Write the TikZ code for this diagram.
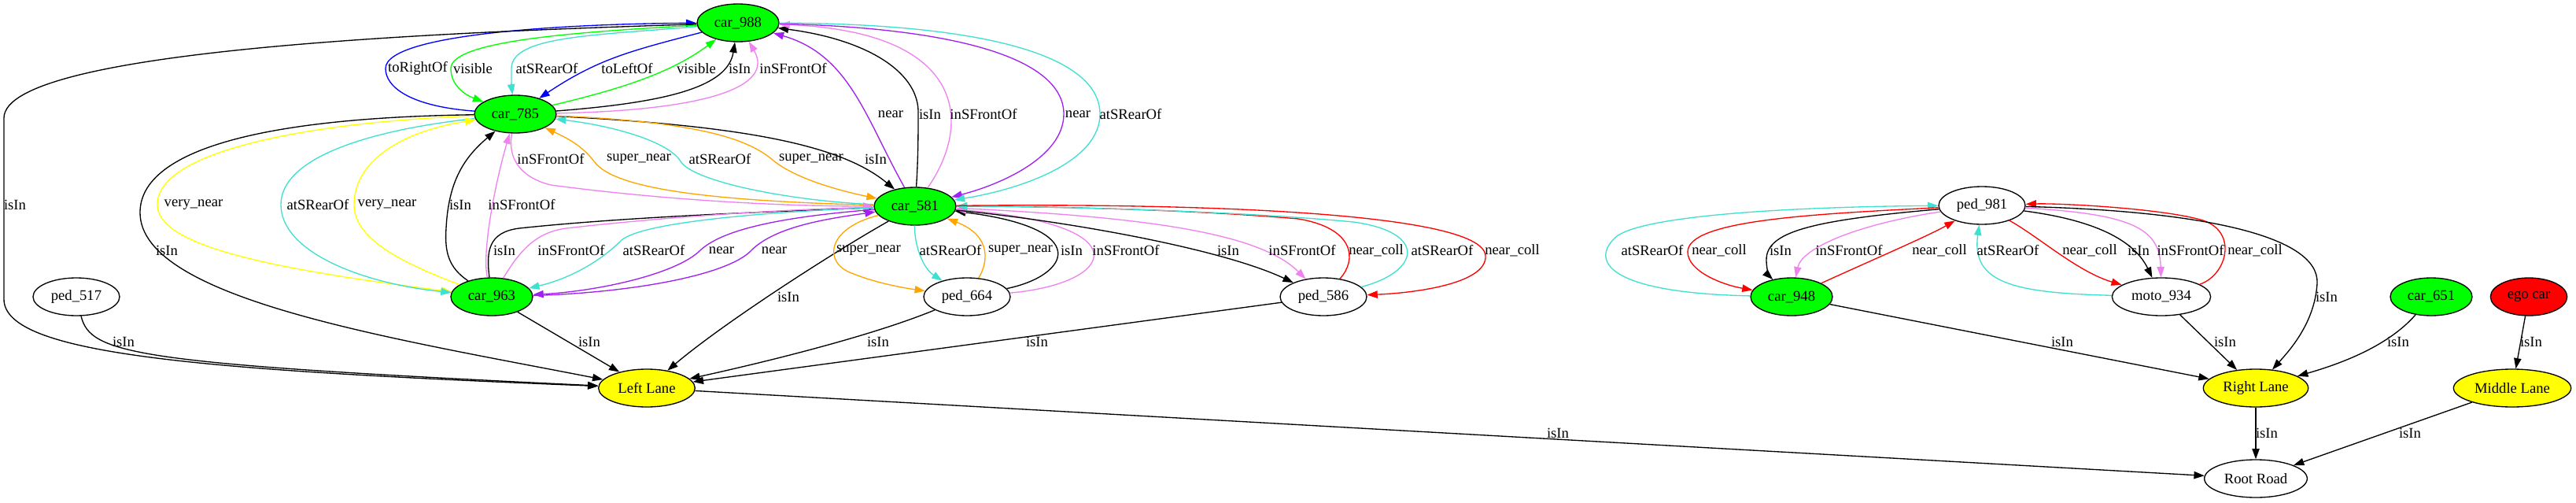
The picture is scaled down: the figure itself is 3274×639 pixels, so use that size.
\documentclass[tikz,border=0pt]{standalone}
\usepackage{fontspec}
\setmainfont{Liberation Serif}
\usepackage{xcolor}
\usepackage{tikz}
\usetikzlibrary{arrows.meta}
\usetikzlibrary{shapes.geometric}
\definecolor{gvgreen}{HTML}{00FF00}
\definecolor{gvyellow}{HTML}{FFFF00}
\definecolor{gvred}{HTML}{FF0000}
\definecolor{gvblue}{HTML}{0000FF}
\definecolor{gvturq}{HTML}{40E0D0}
\definecolor{gvviolet}{HTML}{EE82EE}
\definecolor{gvpurple}{HTML}{A020F0}
\definecolor{gvorange}{HTML}{FFA500}
\tikzset{
    obj/.style={ellipse, draw=black, line width=1pt, minimum height=36pt, inner sep=0pt},
    car/.style={obj, fill=gvgreen, minimum width=78pt},
    ped/.style={obj, minimum width=82.5pt},
    lane/.style={obj, fill=gvyellow},
    rel/.style={draw, line width=1pt, -{Triangle[length=10pt,width=7pt]}},
    isinrel/.style={rel, draw=black},
    nearrel/.style={rel, draw=gvpurple},
    collrel/.style={rel, draw=gvred},
    frontrel/.style={rel, draw=gvviolet},
    rearrel/.style={rel, draw=gvturq},
    suprel/.style={rel, draw=gvorange},
    veryrel/.style={rel, draw=gvyellow},
    visrel/.style={rel, draw=gvgreen},
    siderel/.style={rel, draw=gvblue},
    lbl/.style={text=black, inner sep=0pt},
}
\begin{document}
\begin{tikzpicture}[x=0.75pt, y=-0.75pt, font=\fontsize{14}{16}\selectfont]
	\useasboundingbox (0,0) rectangle (3274,639);
	\node[car] (car988) at (938,29) {car\_988};
	\node[car] (car785) at (655,145) {car\_785};
	\node[car] (car581) at (1163,262) {car\_581};
	\node[ped] (ped517) at (97,377) {ped\_517};
	\node[car] (car963) at (625,377) {car\_963};
	\node[ped] (ped664) at (1229,377) {ped\_664};
	\node[ped] (ped586) at (1682,377) {ped\_586};
	\node[ped] (ped981) at (2519,261) {ped\_981};
	\node[car] (car948) at (2277,377) {car\_948};
	\node[obj, minimum width=94pt] (moto934) at (2747,377) {moto\_934};
	\node[car] (car651) at (3090,377) {car\_651};
	\node[obj, fill=gvred, minimum width=73pt] (egocar) at (3214,377) {ego car};
	\node[lane, minimum width=92pt] (leftlane) at (822,493) {Left Lane};
	\node[lane, minimum width=100pt] (rightlane) at (2867,493) {Right Lane};
	\node[lane, minimum width=112pt] (middlelane) at (3193,493) {Middle Lane};
	\node[obj, minimum width=98pt] (rootroad) at (2867,608) {Root Road};
	% car_988 and car_785
	\draw[siderel] (car785) .. controls (520,135) and (490,110) .. (490,87) .. controls (490,40) and (750,30) .. (car988) node[lbl] at (531,87) {toRightOf};
	\draw[visrel] (car988) .. controls (750,40) and (573,50) .. (573,87) .. controls (573,108) and (590,120) .. (car785) node[lbl] at (601,87) {visible};
	\draw[rearrel] (car988) .. controls (760,45) and (650,45) .. (650,87) .. controls (650,100) and (650,110) .. (car785) node[lbl] at (695,87) {atSRearOf};
	\draw[siderel] (car988) .. controls (800,65) and (760,75) .. (car785) node[lbl] at (797,87) {toLeftOf};
	\draw[visrel] (car785) .. controls (780,115) and (850,95) .. (car988) node[lbl] at (885,87) {visible};
	\draw[isinrel] (car785) .. controls (850,130) and (925,110) .. (car988) node[lbl] at (940,87) {isIn};
	\draw[frontrel] (car785) .. controls (900,140) and (985,110) .. (car988) node[lbl] at (1008,87) {inSFrontOf};
	\draw[isinrel] (car988) .. controls (600,40) and (5,60) .. (5,150) -- (5,380) .. controls (5,450) and (250,470) .. (leftlane) node[lbl] at (19,260) {isIn};
	% car_581 and car_988
	\draw[nearrel] (car581) .. controls (1100,150) and (1080,70) .. (car988) node[lbl] at (1132,145) {near};
	\draw[isinrel] (car581) .. controls (1167,200) and (1167,170) .. (1167,140) .. controls (1165,90) and (1100,50) .. (car988) node[lbl] at (1182,145) {isIn};
	\draw[frontrel] (car581) .. controls (1240,150) and (1220,40) .. (car988) node[lbl] at (1250,145) {inSFrontOf};
	\draw[nearrel] (car988) .. controls (1200,35) and (1352,70) .. (1352,145) .. controls (1352,200) and (1270,235) .. (car581) node[lbl] at (1370,145) {near};
	\draw[rearrel] (car988) .. controls (1250,30) and (1398,70) .. (1398,145) .. controls (1398,205) and (1300,240) .. (car581) node[lbl] at (1437,145) {atSRearOf};
	% car_785 and car_581
	\draw[isinrel] (car785) .. controls (950,160) and (1070,185) .. (car581) node[lbl] at (1113,202) {isIn};
	\draw[suprel] (car785) .. controls (900,155) and (955,180) .. (983,204) .. controls (1015,230) and (1080,245) .. (car581) node[lbl] at (1031,202) {super\_near};
	\draw[rearrel] (car581) .. controls (1000,255) and (880,230) .. (865,205) .. controls (850,180) and (780,160) .. (car785) node[lbl] at (915,202) {atSRearOf};
	\draw[suprel] (car581) .. controls (900,255) and (780,240) .. (755,205) .. controls (740,185) and (720,175) .. (car785) node[lbl] at (812,202) {super\_near};
	\draw[frontrel] (car785) .. controls (645,200) and (660,225) .. (700,235) .. controls (850,255) and (1000,262) .. (car581) node[lbl] at (700,202) {inSFrontOf};
	% car_785 and car_963
	\draw[veryrel] (car785) .. controls (400,155) and (200,190) .. (200,260) .. controls (200,310) and (330,340) .. (car963) node[lbl] at (246,260) {very\_near};
	\draw[rearrel] (car785) .. controls (470,165) and (357,200) .. (357,260) .. controls (357,320) and (460,360) .. (car963) node[lbl] at (404,260) {atSRearOf};
	\draw[veryrel] (car963) .. controls (500,330) and (450,300) .. (450,260) .. controls (450,200) and (520,165) .. (car785) node[lbl] at (492,260) {very\_near};
	\draw[isinrel] (car963) .. controls (570,340) and (565,320) .. (567,290) .. controls (570,230) and (590,200) .. (car785) node[lbl] at (585,260) {isIn};
	\draw[frontrel] (car963) .. controls (612,320) and (630,230) .. (car785) node[lbl] at (663,260) {inSFrontOf};
	\draw[isinrel] (car785) .. controls (300,150) and (178,200) .. (178,270) .. controls (178,380) and (500,430) .. (leftlane) node[lbl] at (212,318) {isIn};
	% car_963 and car_581
	\draw[isinrel] (car963) .. controls (618,320) and (620,295) .. (660,290) .. controls (800,275) and (1000,268) .. (car581) node[lbl] at (641,318) {isIn};
	\draw[frontrel] (car963) .. controls (660,320) and (680,295) .. (720,290) .. controls (850,275) and (1000,266) .. (car581) node[lbl] at (726,318) {inSFrontOf};
	\draw[rearrel] (car581) .. controls (1000,268) and (820,280) .. (790,305) .. controls (760,335) and (720,355) .. (car963) node[lbl] at (831,318) {atSRearOf};
	\draw[nearrel] (car581) .. controls (1000,275) and (920,290) .. (890,318) .. controls (860,348) and (760,370) .. (car963) node[lbl] at (917,318) {near};
	\draw[nearrel] (car963) .. controls (800,372) and (925,350) .. (955,318) .. controls (985,288) and (1050,278) .. (car581) node[lbl] at (984,318) {near};
	\draw[isinrel] (car581) .. controls (1060,320) and (920,410) .. (leftlane) node[lbl] at (1002,377) {isIn};
	% car_581 and ped_664
	\draw[suprel] (car581) .. controls (1050,290) and (1045,335) .. (1085,348) .. controls (1115,360) and (1150,366) .. (ped664) node[lbl] at (1104,318) {super\_near};
	\draw[rearrel] (car581) .. controls (1162,310) and (1172,340) .. (ped664) node[lbl] at (1208,318) {atSRearOf};
	\draw[suprel] (ped664) .. controls (1255,335) and (1262,300) .. (car581) node[lbl] at (1297,318) {super\_near};
	\draw[isinrel] (ped664) .. controls (1360,350) and (1390,290) .. (car581) node[lbl] at (1362,318) {isIn};
	\draw[frontrel] (ped664) .. controls (1420,360) and (1450,285) .. (car581) node[lbl] at (1431,318) {inSFrontOf};
	% car_581 and ped_586
	\draw[isinrel] (car581) .. controls (1350,280) and (1550,315) .. (ped586) node[lbl] at (1561,318) {isIn};
	\draw[frontrel] (car581) .. controls (1450,275) and (1600,295) .. (ped586) node[lbl] at (1655,318) {inSFrontOf};
	\draw[collrel] (ped586) .. controls (1725,330) and (1722,290) .. (1650,278) .. controls (1500,265) and (1300,262) .. (car581) node[lbl] at (1749,318) {near\_coll};
	\draw[rearrel] (ped586) .. controls (1805,345) and (1815,295) .. (1720,282) .. controls (1550,266) and (1300,262) .. (car581) node[lbl] at (1833,318) {atSRearOf};
	\draw[collrel] (car581) .. controls (1500,258) and (1885,268) .. (1888,325) .. controls (1890,360) and (1800,372) .. (ped586) node[lbl] at (1922,318) {near\_coll};
	% lanes
	\draw[isinrel] (ped517) .. controls (115,450) and (170,462) .. (leftlane) node[lbl] at (157,434) {isIn};
	\draw[isinrel] (car963) -- (leftlane) node[lbl] at (749,434) {isIn};
	\draw[isinrel] (ped664) .. controls (1100,430) and (950,465) .. (leftlane) node[lbl] at (1116,434) {isIn};
	\draw[isinrel] (ped586) -- (leftlane) node[lbl] at (1318,434) {isIn};
	\draw[isinrel] (leftlane) -- (rootroad) node[lbl] at (1980,550) {isIn};
	% ped_981, car_948 and moto_934
	\draw[rearrel] (car948) .. controls (2040,372) and (2020,330) .. (2055,300) .. controls (2100,268) and (2350,262) .. (ped981) node[lbl] at (2100,318) {atSRearOf};
	\draw[collrel] (ped981) .. controls (2300,272) and (2145,280) .. (2145,320) .. controls (2145,345) and (2190,362) .. (car948) node[lbl] at (2185,318) {near\_coll};
	\draw[isinrel] (ped981) .. controls (2300,280) and (2245,295) .. (2245,330) .. controls (2245,345) and (2250,352) .. (car948) node[lbl] at (2263,318) {isIn};
	\draw[frontrel] (ped981) .. controls (2360,285) and (2290,315) .. (car948) node[lbl] at (2350,318) {inSFrontOf};
	\draw[collrel] (car948) .. controls (2380,330) and (2450,300) .. (ped981) node[lbl] at (2465,318) {near\_coll};
	\draw[rearrel] (moto934) .. controls (2560,372) and (2505,360) .. (ped981) node[lbl] at (2552,318) {atSRearOf};
	\draw[collrel] (ped981) .. controls (2590,300) and (2640,345) .. (moto934) node[lbl] at (2656,318) {near\_coll};
	\draw[isinrel] (ped981) .. controls (2650,278) and (2710,300) .. (moto934) node[lbl] at (2718,318) {isIn};
	\draw[frontrel] (ped981) .. controls (2710,272) and (2745,290) .. (moto934) node[lbl] at (2784,318) {inSFrontOf};
	\draw[collrel] (moto934) .. controls (2830,350) and (2845,295) .. (2800,280) .. controls (2750,265) and (2620,258) .. (ped981) node[lbl] at (2866,318) {near\_coll};
	\draw[isinrel] (ped981) .. controls (2800,268) and (2948,300) .. (2945,360) .. controls (2942,410) and (2910,445) .. (rightlane) node[lbl] at (2957,377) {isIn};
	\draw[isinrel] (car948) -- (rightlane) node[lbl] at (2621,434) {isIn};
	\draw[isinrel] (moto934) -- (rightlane) node[lbl] at (2828,434) {isIn};
	\draw[isinrel] (car651) .. controls (3035,440) and (2975,462) .. (rightlane) node[lbl] at (3048,434) {isIn};
	\draw[isinrel] (egocar) -- (middlelane) node[lbl] at (3217,434) {isIn};
	\draw[isinrel] (rightlane) -- (rootroad) node[lbl] at (2881,550) {isIn};
	\draw[isinrel] (middlelane) -- (rootroad) node[lbl] at (3063,550) {isIn};
\end{tikzpicture}
\end{document}
